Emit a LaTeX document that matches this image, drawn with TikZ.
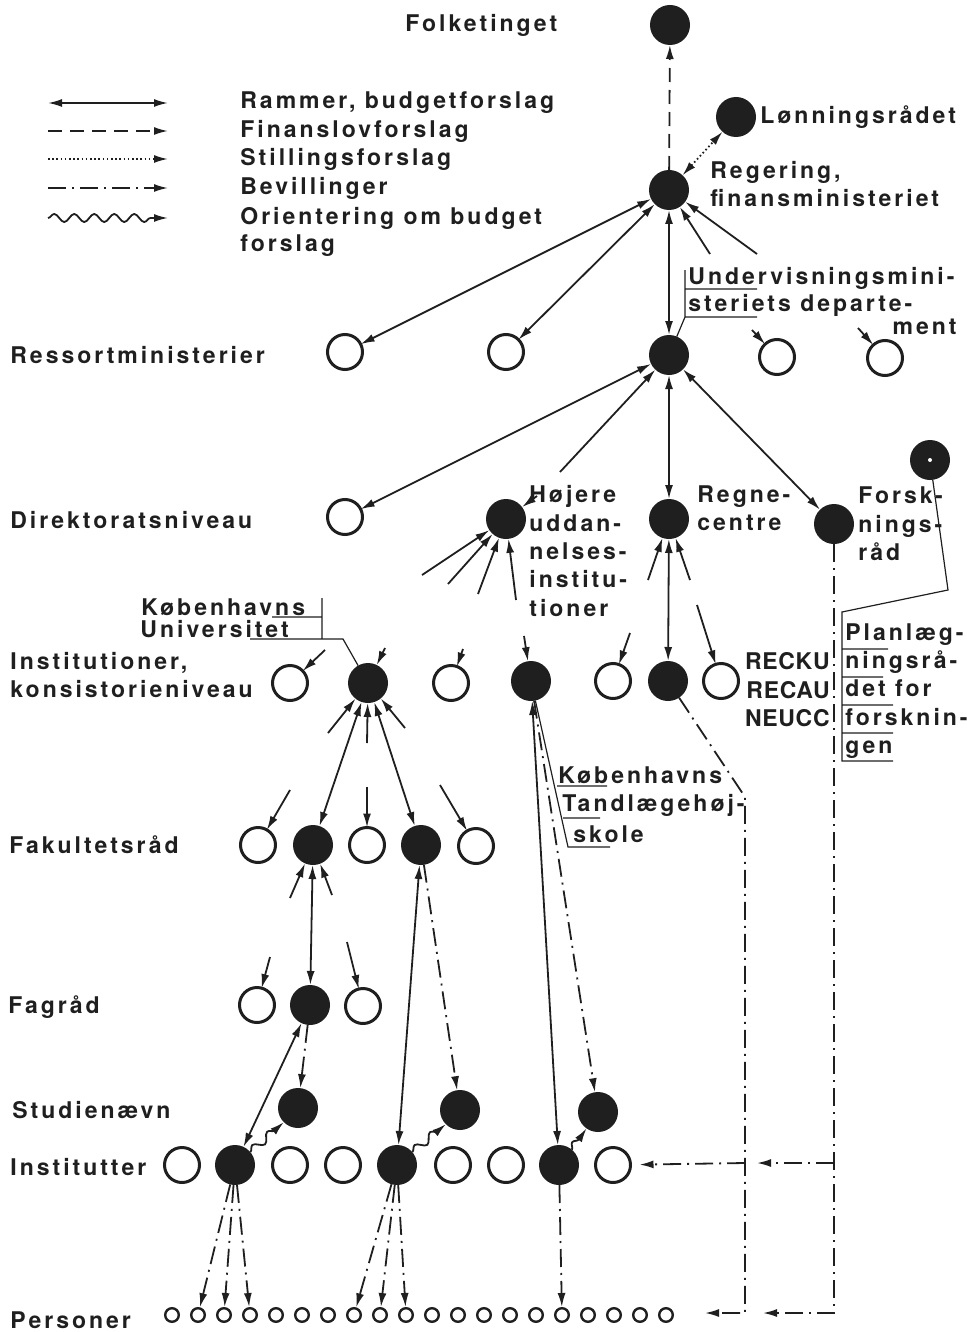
\documentclass[tikz,border=0pt]{standalone}
\usepackage{fontspec}
\setmainfont{TeX Gyre Heros}[LetterSpace=13]
\newfontfamily\tightfont{TeX Gyre Heros}[LetterSpace=3]
\usetikzlibrary{arrows.meta,decorations.pathmorphing}

\colorlet{ink}{black!88}
\tikzset{
  full/.style={circle,fill=ink,minimum size=20pt,inner sep=0pt,outer sep=0pt},
  open/.style={circle,draw=ink,line width=1.5pt,minimum size=17.5pt,inner sep=0pt,outer sep=0pt},
  lille/.style={circle,draw=ink,line width=1.2pt,minimum size=6.8pt,inner sep=0pt},
  txt/.style={font=\bfseries\fontsize{11.5}{14.2}\selectfont,inner sep=0pt,text=ink},
  pil/.style={->,draw=ink,line width=0.9pt},
  ramme/.style={pil,<->},
  finans/.style={pil,dash pattern=on 7pt off 4pt},
  stilling/.style={pil,dash pattern=on 0.8pt off 1.3pt},
  bevil/.style={pil,dash pattern=on 9pt off 3pt on 1pt off 3pt},
  orient/.style={pil,decorate,decoration={snake,amplitude=2pt,segment length=10pt,post length=5pt}},
  brk/.style={draw=ink,line width=0.6pt},
}

\begin{document}
\begin{tikzpicture}[x=0.5pt,y=-0.5pt,>={Latex[length=7pt,width=4pt]}]
\useasboundingbox (0,0) rectangle (967,1332);

% Legend
\foreach \y/\s/\t [count=\i] in {103/ramme/{Rammer, budgetforslag},131/finans/Finanslovforslag,
    159/stilling/Stillingsforslag,188/bevil/Bevillinger,218/orient/{Orientering om budget}}{
  \draw[\s] (48,\y) -- (168,\y);
  \node[txt,anchor=west] (leg\i) at (240,\y) {\t};
}
\node[txt,anchor=west] (leg6) at (240,246) {forslag};

% Levels
\node[txt,anchor=west] (folketxt) at (405,25) {Folketinget};
\node[txt,anchor=west] (ressort) at (10,355) {Ressortministerier};
\node[txt,anchor=west] (direk) at (10,520) {Direktoratsniveau};
\node[txt,anchor=west,align=left] (instit) at (10,675) {Institutioner,\\konsistorieniveau};
\node[txt,anchor=west] (fakul) at (9,845) {Fakultetsråd};
\node[txt,anchor=west] (fagr) at (8,1007) {Fagråd};
\node[txt,anchor=west] (studn) at (12,1110) {Studienævn};
\node[txt,anchor=west] (institu) at (10,1167) {Institutter};
\node[txt,anchor=west] (pers) at (10,1320) {Personer};

% Circles
\node[full] (folk) at (670,25) {};
\node[full] (loen) at (736,117) {};
\node[full] (reg) at (669,190) {};
\node[open] (res1) at (345,352) {};
\node[open] (res2) at (506,352) {};
\node[full] (um) at (669,355) {};
\node[open] (res3) at (777,357) {};
\node[open] (res4) at (885,358) {};
\node[open] (dir1) at (345,517) {};
\node[full] (hoj) at (506,519) {};
\node[full] (regne) at (669,519) {};
\node[full] (forsk) at (834,524) {};
\node[full] (plan) at (930,460) {};
\fill[white] (plan) circle (1pt);
\node[open] (ins1) at (290,683) {};
\node[full] (ku) at (368,683) {};
\node[open] (ins2) at (451,683) {};
\node[full] (tand) at (531,681) {};
\node[open] (ins3) at (613,681) {};
\node[full] (reck) at (668,681) {};
\node[open] (ins4) at (721,681) {};
\node[open] (fakA) at (258,845) {};
\node[full] (fak1) at (313,845) {};
\node[open] (fakB) at (367,845) {};
\node[full] (fak2) at (421,845) {};
\node[open] (fakC) at (476,846) {};
\node[open] (fagA) at (257,1005) {};
\node[full] (fag) at (310,1005) {};
\node[open] (fagB) at (363,1006) {};
\node[full] (stu1) at (298,1108) {};
\node[full] (stu2) at (460,1110) {};
\node[full] (stu3) at (598,1112) {};
\foreach \x/\k [count=\i] in {182/open,235/full,290/open,343/open,397/full,453/open,506/open,559/full,613/open}
  \node[\k] (inst\i) at (\x,1165) {};
\foreach \i in {1,...,20}
  \node[lille] (per\i) at ({172+26*(\i-1)},1315) {};

% Labels
\node[txt,anchor=west] (loentxt) at (760,117) {Lønningsrådet};
\node[txt,anchor=west,align=left] (regtxt) at (710,184) {Regering,\\finansministeriet};
\node[txt,anchor=west] (umtxt1) at (688,278) {Undervisningsmini-};
\node[txt,anchor=west] (umtxt2) at (688,305) {steriets departe-};
\node[txt,anchor=east] (umtxt3) at (957,327) {ment};
\node[txt,anchor=west,align=left] (hojtxt) at (529,551) {Højere\\uddan-\\nelses-\\institu-\\tioner};
\node[txt,anchor=west,align=left] (regnetxt) at (697,508) {Regne-\\centre};
\node[txt,anchor=west,align=left] (forsktxt) at (858,524) {Forsk-\\nings-\\råd};
\node[txt,anchor=west] (kutxt1) at (141,607) {Københavns};
\node[txt,anchor=west] (kutxt2) at (140,629) {Universitet};
\node[txt,anchor=east,align=right,font=\tightfont\bfseries\fontsize{11.5}{14.2}\selectfont] (recktxt) at (830,690) {RECKU\\RECAU\\NEUCC};
\node[txt,anchor=west,align=left] (plantxt) at (845,691) {Planlæg-\\ningsrå-\\det for\\forsknin-\\gen};
\node[txt,anchor=west] (tandtxt1) at (558,775) {Københavns};
\node[txt,anchor=west] (tandtxt2) at (562,805) {Tandlægehøj-};
\node[txt,anchor=west] (tandtxt3) at (573,834) {skole};

% Label brackets
\draw[brk] (um) -- (685,317) -- (685,270) (685,289) -- (757,289) (685,317) -- (757,317);
\draw[brk] (ku) -- (343,639) -- (250,639) (322,639) -- (322,598) (272,617) -- (322,617);
\draw[brk] (tand) -- (568,847) -- (610,847) (557,786) -- (607,786) (563,818) -- (600,818);
\draw[brk] (plan) -- (948,590) -- (842,612) -- (842,761) -- (893,761)
  (842,649) -- (888,649) (842,677) -- (883,677) (842,705) -- (893,705) (842,733) -- (893,733);

% Rammer, budgetforslag
\draw[finans] (reg) -- (folk);
\draw[stilling,<->] (reg) -- (loen);
\foreach \a/\b in {reg/res1,reg/res2,reg/um,um/dir1,um/regne,um/forsk,regne/reck,
    ku/fak1,ku/fak2,fak1/fag,fak2/inst5,fag/inst2,tand/inst8}
  \draw[ramme] (\a) -- (\b);

% cut connections
\foreach \x/\y/\n [count=\i] in {710/254/reg,757/254/reg,752/330/res3,858/328/res4,560/472/um,
    537/496/hoj,422/575/hoj,448/584/hoj,478/594/hoj,516/600/hoj,648/580/regne,690/580/regne,
    325/650/ins1,385/648/ku,463/649/ins2,524/636/tand,630/633/ins3,697/605/ins4,
    328/733/ku,367/743/ku,405/728/ku,290/790/fakA,367/787/fakB,440/785/fakC,
    290/898/fak1,332/895/fak1,270/957/fagA,347/942/fagB}{
  \coordinate (s\i) at (\x,\y);
  \draw[pil] (s\i) -- (\n);
}

% Bevillinger
\foreach \a/\b in {fak2/stu2,fag/stu1,tand/stu3,inst2/per2,inst2/per3,inst2/per4,
    inst5/per8,inst5/per9,inst5/per10,inst8/per16}
  \draw[bevil] (\a) -- (\b);
\coordinate (k1) at (745,797); \coordinate (k2) at (745,1163);
\coordinate (k3) at (745,1313); \coordinate (e1) at (705,1313);
\draw[bevil] (reck) -- (k1) -- (k3) -- (e1);
\draw[bevil,shorten >=4.5pt] (k2) -- (inst9);
\coordinate (f1) at (834,1163); \coordinate (f2) at (834,1313);
\coordinate (e2) at (757,1163); \coordinate (e3) at (763,1313);
\draw[bevil] (forsk) -- (f2) -- (e3);
\draw[bevil] (f1) -- (e2);

% Orientering
\draw[orient] (inst2.40) -- (stu1.225);
\draw[orient] (inst5.40) -- (stu2.225);
\draw[orient] (inst8.50) -- (stu3.235);
\end{tikzpicture}
\end{document}
